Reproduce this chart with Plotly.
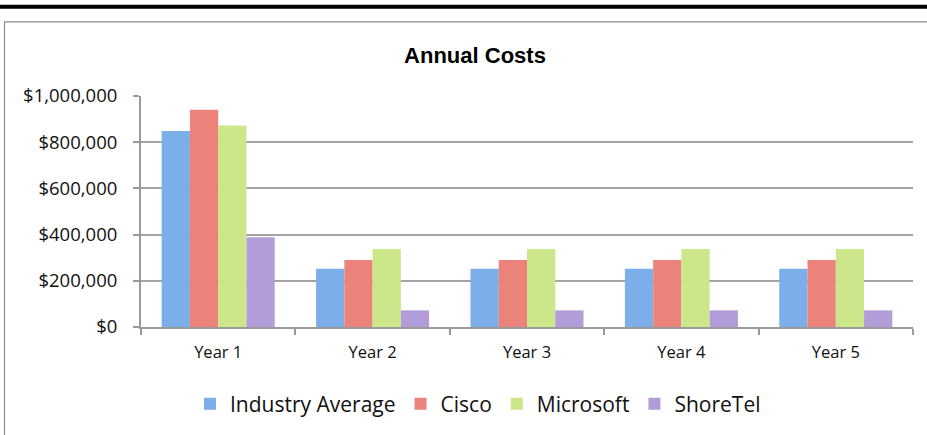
import plotly.graph_objects as go

categories = ["Year 1", "Year 2", "Year 3", "Year 4", "Year 5"]
industry_avg = [848000, 252000, 252000, 252000, 252000]
cisco = [941000, 290000, 290000, 290000, 290000]
microsoft = [872000, 338000, 338000, 338000, 338000]
shoretel = [389000, 72000, 72000, 72000, 72000]
y_ticks = [0, 200000, 400000, 600000, 800000, 1000000]

series = [
    ("Industry Average", industry_avg, "#7caeea"),
    ("Cisco", cisco, "#ec837b"),
    ("Microsoft", microsoft, "#cbe78a"),
    ("ShoreTel", shoretel, "#b39dd9"),
]

W, H = 927, 435
L, R, T, B = 141, 14, 96, 107
pw, ph = W - L - R, H - T - B

fig = go.Figure()
for name, vals, col in series:
    fig.add_trace(go.Bar(x=categories, y=vals, name=name,
                         marker=dict(color=col, line=dict(width=0))))

def px_x(p):
    return (p - L) / pw

def px_y(p):
    return (H - B - p) / ph

shapes = [
    # thick black rule at top
    dict(type="rect", xref="paper", yref="paper",
         x0=px_x(-5), x1=px_x(W + 5), y0=px_y(8.3), y1=px_y(4.3),
         fillcolor="black", line=dict(width=0), layer="above"),
    # chart frame
    dict(type="rect", xref="paper", yref="paper",
         x0=px_x(4.5), x1=px_x(W + 20), y0=px_y(H + 20), y1=px_y(21.5),
         fillcolor="rgba(0,0,0,0)", line=dict(color="#8c8c8c", width=1.2),
         layer="below"),
]

fig.update_layout(
    width=W, height=H,
    margin=dict(l=L, r=R, t=T, b=B),
    paper_bgcolor="white", plot_bgcolor="white",
    barmode="group", bargap=0.268, bargroupgap=0,
    title=dict(text="<b>Annual Costs</b>", x=475 / W, xref="container", xanchor="center",
               y=1 - 55 / H, yref="container", yanchor="middle",
               font=dict(family="Liberation Sans, Arial", size=22, color="black")),
    font=dict(family="Open Sans, Noto Sans", color="#111111"),
    showlegend=True,
    legend=dict(orientation="h", x=px_x(478), xanchor="center",
                y=px_y(404), yanchor="middle",
                font=dict(family="Open Sans, Noto Sans", size=21, color="#111111"),
                itemwidth=30, tracegroupgap=0),
    shapes=shapes,
)

fig.update_xaxes(showline=True, linecolor="#9a9a9a", linewidth=2,
                 ticks="outside", tickson="boundaries", ticklen=6,
                 tickcolor="#9a9a9a", tickwidth=2,
                 ticklabelstandoff=9,
                 tickfont=dict(family="Open Sans, Noto Sans", size=16.5, color="#111111"),
                 showgrid=False)
fig.update_yaxes(range=[0, 1000000], tickvals=y_ticks, tickformat="$,.0f",
                 showline=True, linecolor="#9a9a9a", linewidth=2,
                 ticks="outside", ticklen=6, tickcolor="#9a9a9a", tickwidth=2,
                 ticklabelstandoff=12,
                 showgrid=True, gridcolor="#a3a3a3", gridwidth=2,
                 zeroline=False,
                 tickfont=dict(family="Open Sans, Noto Sans", size=18.5, color="#111111"))

fig.write_html("out.html")
